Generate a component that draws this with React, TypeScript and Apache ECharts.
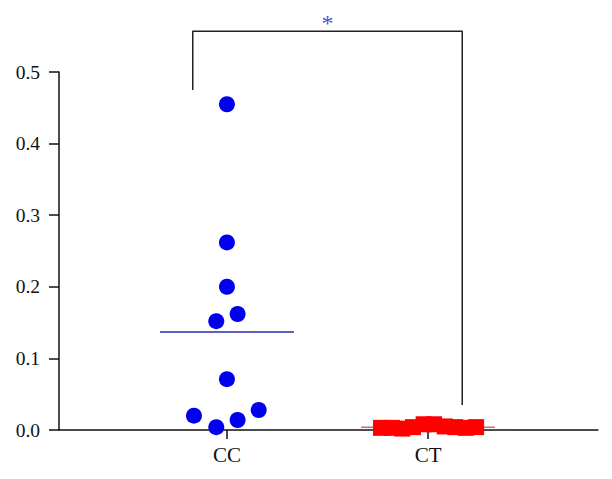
import React, { useEffect, useRef } from "react";
import * as echarts from "echarts";

const categories = ["CC", "CT"];
const categoryPositions = [1, 2];
const yTicks = [0, 0.1, 0.2, 0.3, 0.4, 0.5];

const ccValues = [0.455, 0.262, 0.2, 0.162, 0.152, 0.071, 0.028, 0.02, 0.014, 0.004];
const ccOffsets = [0, 0, 0, 0.053, -0.053, 0, 0.158, -0.164, 0.053, -0.053];
const ccMean = 0.137;

const ctValues = [0.003, 0.003, 0.002, 0.004, 0.008, 0.008, 0.005, 0.004, 0.003, 0.004];
const ctOffsets = [-0.234, -0.18, -0.128, -0.075, -0.022, 0.03, 0.083, 0.135, 0.187, 0.239];
const ctMean = 0.004;

const meanHalfWidth = 0.333;
const bracketX = [0.83, 2.17];
const bracketBottoms = [0.475, 0.035];
const bracketTop = 0.557;
const starY = 0.568;
const starLabel = "*";

const FONT = "Liberation Serif";

export default function App() {
  const ref = useRef<HTMLDivElement>(null);
  useEffect(() => {
    document.body.style.margin = "0";
    const chart = echarts.init(ref.current!, null, { renderer: "svg" });
    const ccData = ccValues.map((v, i) => [categoryPositions[0] + ccOffsets[i], v]);
    const ctData = ctValues.map((v, i) => [categoryPositions[1] + ctOffsets[i], v]);
    chart.setOption({
      animation: false,
      backgroundColor: "#ffffff",
      grid: { left: 59, right: 14, top: 72, bottom: 49, containLabel: false },
      xAxis: {
        type: "value",
        min: 0.165,
        max: 2.845,
        axisLine: { show: true, onZero: false, lineStyle: { color: "#111111", width: 1.5 } },
        axisTick: {
          show: true,
          length: 9,
          customValues: categoryPositions,
          lineStyle: { color: "#111111", width: 1.5 },
        },
        axisLabel: {
          show: true,
          customValues: categoryPositions,
          formatter: (v: number) => {
            const idx = categoryPositions.indexOf(Math.round(v));
            return idx >= 0 ? categories[idx] : "";
          },
          fontFamily: FONT,
          fontSize: 21,
          color: "#111111",
          margin: 14,
        },
        splitLine: { show: false },
      },
      yAxis: {
        type: "value",
        min: yTicks[0],
        max: yTicks[yTicks.length - 1],
        interval: 0.1,
        axisLine: { show: true, lineStyle: { color: "#111111", width: 1.5 } },
        axisTick: { show: true, length: 10, lineStyle: { color: "#111111", width: 1.5 } },
        axisLabel: {
          formatter: (v: number) => v.toFixed(1),
          fontFamily: FONT,
          fontSize: 19.5,
          color: "#111111",
          margin: 19,
        },
        splitLine: { show: false },
      },
      series: [
        {
          type: "line",
          data: [
            [categoryPositions[0] - meanHalfWidth, ccMean],
            [categoryPositions[0] + meanHalfWidth, ccMean],
          ],
          symbol: "none",
          lineStyle: { color: "#2a2ab0", width: 1.5 },
          z: 1,
        },
        {
          type: "line",
          data: [
            [categoryPositions[1] - meanHalfWidth, ctMean],
            [categoryPositions[1] + meanHalfWidth, ctMean],
          ],
          symbol: "none",
          lineStyle: { color: "#d86a6a", width: 1.5 },
          z: 1,
        },
        {
          type: "scatter",
          data: ccData,
          symbol: "circle",
          symbolSize: 16,
          itemStyle: { color: "#0000ee", opacity: 1 },
          z: 3,
        },
        {
          type: "scatter",
          data: ctData,
          symbol: "rect",
          symbolSize: 16,
          itemStyle: { color: "#ff0000", opacity: 1 },
          z: 3,
        },
        {
          type: "line",
          clip: false,
          data: [
            [bracketX[0], bracketBottoms[0]],
            [bracketX[0], bracketTop],
            [bracketX[1], bracketTop],
            [bracketX[1], bracketBottoms[1]],
          ],
          symbol: "none",
          lineStyle: { color: "#222222", width: 1.5 },
          z: 2,
        },
        {
          type: "scatter",
          clip: false,
          data: [[(bracketX[0] + bracketX[1]) / 2, starY]],
          symbol: "circle",
          symbolSize: 2,
          itemStyle: { color: "rgba(0,0,0,0)" },
          label: {
            show: true,
            position: "inside",
            formatter: starLabel,
            fontFamily: FONT,
            fontSize: 24,
            color: "#1c1cc0",
          },
          z: 4,
        },
      ],
    });
    return () => chart.dispose();
  }, []);
  return (
    <div
      ref={ref}
      style={{ position: "fixed", left: 0, top: 0, width: 612, height: 479 }}
    />
  );
}
